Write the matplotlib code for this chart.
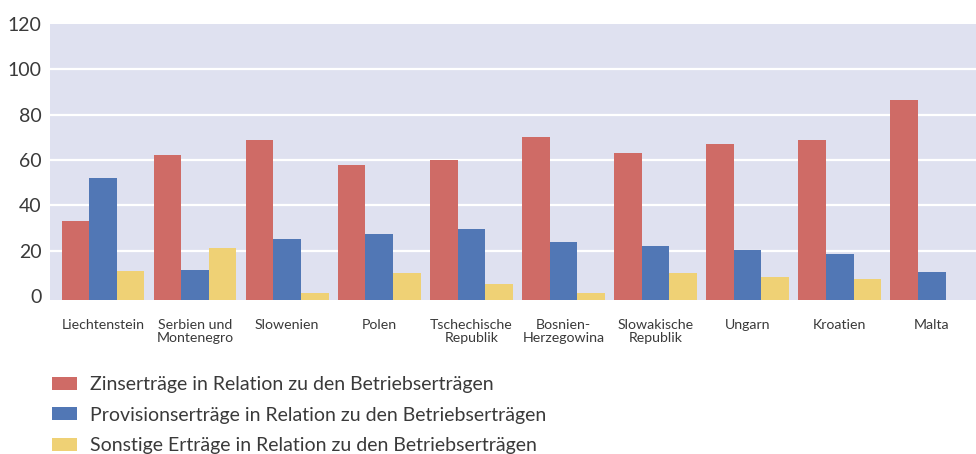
import numpy as np
import matplotlib
matplotlib.use("Agg")
import matplotlib.pyplot as plt
from matplotlib.patches import Patch

# --- Data ---
countries = ["Liechtenstein", "Serbien und\nMontenegro", "Slowenien", "Polen",
             "Tschechische\nRepublik", "Bosnien-\nHerzegowina", "Slowakische\nRepublik",
             "Ungarn", "Kroatien", "Malta"]
zins = [33, 62, 69, 58, 60, 70, 63, 67, 69, 86.5]
provision = [52, 11.5, 25, 27.5, 29.5, 24, 22, 20.5, 18.5, 10.5]
sonstige = [11, 21, 1.5, 10, 5.5, 1.5, 10, 8.5, 7.5, 0]
series_labels = ["Zinserträge in Relation zu den Betriebserträgen",
                 "Provisionserträge in Relation zu den Betriebserträgen",
                 "Sonstige Erträge in Relation zu den Betriebserträgen"]

# --- Style ---
COLORS = ["#cf6b66", "#5177b5", "#efd175"]
BG = "#dfe1f0"
TEXT = "#3a3a3a"
plt.rcParams["font.family"] = ["Lato", "DejaVu Sans"]

fig = plt.figure(figsize=(9.76, 4.54), dpi=100)
ax = fig.add_axes([50 / 976, 1 - 300 / 454, 926 / 976, 276 / 454])
ax.set_facecolor(BG)

x = np.arange(len(countries))
w = 0.3
y0 = -1.76  # baseline sits on the bottom edge of the plot area
for i, vals in enumerate([zins, provision, sonstige]):
    vals = np.array(vals, dtype=float)
    heights = np.where(vals > 0, vals - y0, 0)
    ax.bar(x + (i - 1) * w, heights, bottom=y0, width=w, color=COLORS[i],
           zorder=3, linewidth=0)

ax.set_xlim(-0.575, 9.48)
ax.set_ylim(y0, 120)
ax.set_yticks(range(0, 121, 20))
ax.set_yticklabels([str(v) for v in range(0, 121, 20)], fontsize=14, color=TEXT)
for v in range(20, 101, 20):
    ax.axhline(v, color="white", lw=1.6, zorder=1)

ax.set_xticks(x)
ax.set_xticklabels(countries, fontsize=10.2, color=TEXT, linespacing=1.05)
ax.tick_params(axis="both", length=0)
ax.tick_params(axis="x", pad=14)
ax.tick_params(axis="y", pad=6)
for s in ax.spines.values():
    s.set_visible(False)

handles = [Patch(facecolor=c, edgecolor="none") for c in COLORS]
fig.legend(handles, series_labels, loc="upper left", bbox_to_anchor=(0.053, 0.172),
           frameon=False, fontsize=14, labelcolor=TEXT, handlelength=1.3,
           handleheight=0.65, handletextpad=0.65, labelspacing=0.7, borderaxespad=0,
           borderpad=0)

fig.savefig("out.png", dpi=100, facecolor="white")
